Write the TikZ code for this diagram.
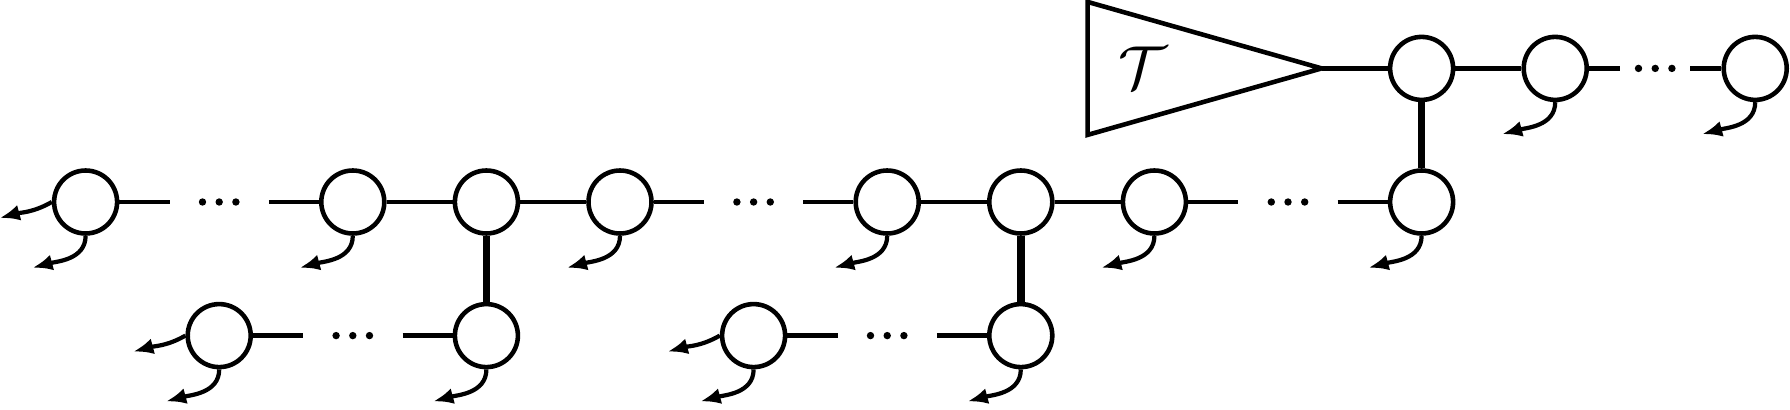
\documentclass[tikz,border=0pt]{standalone}
\usepackage{amsmath,amssymb}
\usepackage{tikz}
\usetikzlibrary{arrows.meta,positioning,calc,shapes.geometric}

\begin{document}
\begin{tikzpicture}[
node distance=13.36mm, on grid,
site/.style={circle, draw, line width=1.3pt, minimum size=6.3mm, inner sep=0pt},
dotsbox/.style={inner sep=0pt, minimum width=9.8mm, minimum height=1.2mm,
  path picture={\foreach \dx in {-1.67mm,0mm,1.67mm}
    \fill ($(path picture bounding box.center)+(\dx,0)$) circle (0.37mm);}},
bond/.style={line width=1.2pt},
link/.style={line width=2.2pt},
arrow/.style={-{Latex[length=2mm,width=1.6mm]}, line width=1.2pt}
]
\useasboundingbox (-8.56mm,-20.8mm) rectangle (170.44mm,20.2mm);

% middle chain
\node[site] (c0) at (0,0) {};
\node[dotsbox, right=of c0] (d1) {};
\node[site, right=of d1] (c2) {};
\node[site, right=of c2] (c3) {};
\node[site, right=of c3] (c4) {};
\node[dotsbox, right=of c4] (d5) {};
\node[site, right=of d5] (c6) {};
\node[site, right=of c6] (c7) {};
\node[site, right=of c7] (c8) {};
\node[dotsbox, right=of c8] (d9) {};
\node[site, right=of d9] (c10) {};

% lower branches
\node[site, below=of c3] (b3) {};
\node[dotsbox, left=of b3] (b2) {};
\node[site, left=of b2] (b1) {};
\node[site, below=of c7] (b7) {};
\node[dotsbox, left=of b7] (b6) {};
\node[site, left=of b6] (b5) {};

% upper chain
\node[site, above=of c10] (t10) {};
\node[site, right=of t10] (t11) {};
\node[dotsbox, minimum width=6.9mm, right=10mm of t11] (td) {};
\node[site, right=10mm of td] (t12) {};

% tree tensor
\draw[line width=1.3pt] ($(t10)+(-33.4mm,6.65mm)$) -- ($(t10)+(-10mm,0)$) coordinate (tip)
  -- ($(t10)+(-33.4mm,-6.65mm)$) -- cycle;
\node[font=\fontsize{16}{19}\selectfont] (tlabel) at ($(t10)+(-27.9mm,0.1mm)$) {$\mathcal{T}$};

\draw[bond] (c0) -- (d1) -- (c2) -- (c3) -- (c4) -- (d5) -- (c6) -- (c7) -- (c8) -- (d9) -- (c10);
\draw[bond] (b1) -- (b2) -- (b3);
\draw[bond] (b5) -- (b6) -- (b7);
\draw[bond] (tip) -- (t10) -- (t11) -- (td) -- (t12);
\draw[link] (c3) -- (b3);
\draw[link] (c7) -- (b7);
\draw[link] (t10) -- (c10);

% physical legs
\draw[arrow] (c0.west) to[out=-150,in=15] ++(-5.2mm,-1.6mm);
\draw[arrow] (b1.west) to[out=-150,in=15] ++(-5.2mm,-1.6mm);
\draw[arrow] (b5.west) to[out=-150,in=15] ++(-5.2mm,-1.6mm);
\draw[arrow] (c0.south) to[out=-90,in=15] ++(-5.3mm,-3.2mm);
\draw[arrow] (c2.south) to[out=-90,in=15] ++(-5.3mm,-3.2mm);
\draw[arrow] (c4.south) to[out=-90,in=15] ++(-5.3mm,-3.2mm);
\draw[arrow] (c6.south) to[out=-90,in=15] ++(-5.3mm,-3.2mm);
\draw[arrow] (c8.south) to[out=-90,in=15] ++(-5.3mm,-3.2mm);
\draw[arrow] (c10.south) to[out=-90,in=15] ++(-5.3mm,-3.2mm);
\draw[arrow] (b1.south) to[out=-90,in=15] ++(-5.3mm,-3.2mm);
\draw[arrow] (b3.south) to[out=-90,in=15] ++(-5.3mm,-3.2mm);
\draw[arrow] (b5.south) to[out=-90,in=15] ++(-5.3mm,-3.2mm);
\draw[arrow] (b7.south) to[out=-90,in=15] ++(-5.3mm,-3.2mm);
\draw[arrow] (t11.south) to[out=-90,in=15] ++(-5.3mm,-3.2mm);
\draw[arrow] (t12.south) to[out=-90,in=15] ++(-5.3mm,-3.2mm);
\end{tikzpicture}
\end{document}
